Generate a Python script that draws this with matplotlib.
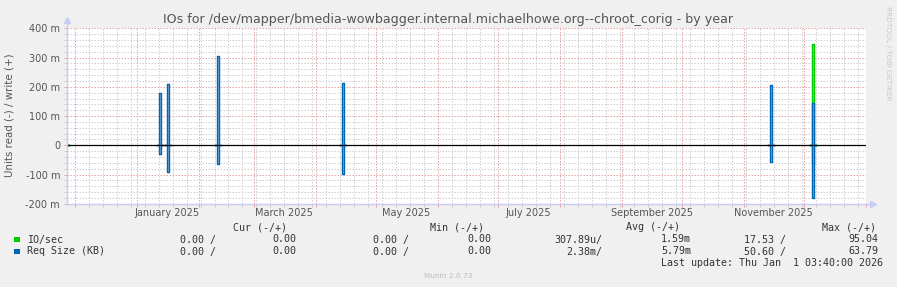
import matplotlib
matplotlib.use('Agg')
import matplotlib.pyplot as plt
import matplotlib.dates as mdates
from matplotlib.patches import Rectangle
import numpy as np
import pandas as pd
from datetime import datetime, timedelta

title = "IOs for /dev/mapper/bmedia-wowbagger.internal.michaelhowe.org--chroot_corig - by year"
ylabel = "Units read (-) / write (+)"

end_time = datetime(2026, 1, 1, 3, 40)
start_time = end_time - timedelta(days=400)

# daily averages, only the non-zero days listed
spike_days = ['2025-01-12', '2025-01-16', '2025-02-10', '2025-04-14', '2025-11-14', '2025-12-05']
io_write = [0, 0, 0, 0, 0, 0.346]
io_read = [0, 0, 0, 0, 0, 0.064]
req_write = [0.180, 0.210, 0.305, 0.213, 0.206, 0.144]
req_read = [0.030, 0.091, 0.064, 0.098, 0.058, 0.181]

yticks = [-0.2, -0.1, 0, 0.1, 0.2, 0.3, 0.4]
ytick_labels = ['-200 m', '-100 m', '0', '100 m', '200 m', '300 m', '400 m']

month_label_days = ['2025-01-16', '2025-03-16', '2025-05-16', '2025-07-16', '2025-09-16', '2025-11-16']
month_labels = ['January 2025', 'March 2025', 'May 2025', 'July 2025', 'September 2025', 'November 2025']

series_names = ['IO/sec', 'Req Size (KB)']
series_colors = ['#00CC00', '#0066B3']
series_light = ['#88E088', '#8DB8DE']
headers = ['Cur (-/+)', 'Min (-/+)', 'Avg (-/+)', 'Max (-/+)']
legend_values = [
    ['0.00 /', '0.00', '0.00 /', '0.00', '307.89u/', '1.59m', '17.53 /', '95.04'],
    ['0.00 /', '0.00', '0.00 /', '0.00', '2.38m/', '5.79m', '50.60 /', '63.79'],
]
last_update = "Last update: Thu Jan  1 03:40:00 2026"

days = pd.date_range('2024-11-27', '2026-01-01', freq='D')


def daily(vals):
    s = pd.Series(0.0, index=days)
    s[pd.to_datetime(spike_days)] = vals
    return s


W, H = 897, 287
fig = plt.figure(figsize=(W / 100, H / 100), dpi=100, facecolor='#F0F0F0')
ax = fig.add_axes([67 / W, 1 - 203.8 / H, (866 - 67) / W, (203.8 - 28.3) / H])
ax.set_facecolor('#FFFFFF')

for (w, r), c, cl in zip([(io_write, io_read), (req_write, req_read)], series_colors, series_light):
    for s in [daily(w), -daily(r)]:
        # only draw around non-zero days, the zero line covers the rest
        keep = (s != 0) | (s.shift(1) != 0) | (s.shift(-1) != 0)
        s = s.where(keep)
        ax.fill_between(days, s.fillna(0), step='post', color=cl, lw=0, zorder=3)
        ax.plot(days, s, drawstyle='steps-post', color=c, lw=1.0, zorder=3)

ax.axhline(0, color='black', lw=0.9, zorder=4)

ax.set_xlim(start_time, end_time)
ax.set_ylim(-0.2, 0.4)
ax.set_yticks(yticks)
ax.set_yticklabels(ytick_labels)
ax.set_yticks(np.arange(-0.2, 0.41, 0.02), minor=True)
ax.xaxis.set_major_locator(mdates.MonthLocator())
ax.xaxis.set_minor_locator(mdates.WeekdayLocator(byweekday=mdates.SU))
ax.set_xticklabels([])

dots = (0, (1.5, 1.5))
ax.grid(True, which='minor', color='#D0D0D0', linestyle=dots, lw=0.72, zorder=1)
ax.grid(True, which='major', color='#E6A6A6', linestyle=dots, lw=0.72, zorder=2)
ax.set_axisbelow(True)

ax.tick_params(which='both', length=2, width=0.7, labelsize=7, labelcolor='#555555', pad=3)
ax.tick_params(which='minor', color='#D0D0D0')
ax.tick_params(which='major', color='#E6A6A6')

for s in ['top', 'right']:
    ax.spines[s].set_visible(False)
for s in ['left', 'bottom']:
    ax.spines[s].set_color('#C8CCF4')
    ax.spines[s].set_linewidth(1)
    ax.spines[s].set_zorder(5)

# axis arrows
ax.plot([0], [1.05], marker='^', ms=5, color='#C8CCF4', transform=ax.transAxes, clip_on=False)
ax.plot([0, 0], [1, 1.05], color='#C8CCF4', lw=1, transform=ax.transAxes, clip_on=False)
ax.plot([1.009], [0], marker='>', ms=5, color='#C8CCF4', transform=ax.transAxes, clip_on=False)
ax.plot([1, 1.009], [0, 0], color='#C8CCF4', lw=1, transform=ax.transAxes, clip_on=False)

for d, t in zip(month_label_days, month_labels):
    ax.text(pd.Timestamp(d), -0.05, t, transform=ax.get_xaxis_transform(),
            ha='center', va='center', fontsize=7, color='#555555')

fig.text(448.5 / W, 1 - 19 / H, title, ha='center', va='center', fontsize=9.05, color='#555555')
fig.text(10 / W, 1 - 115 / H, ylabel, rotation=90, ha='center', va='center', fontsize=7.4, color='#555555')
fig.text(888 / W, 1 - 53 / H, 'RRDTOOL / TOBI OETIKER', rotation=270, ha='center', va='center',
         fontsize=5.3, color='#C8C8C8')
fig.text(448 / W, 1 - 276 / H, 'Munin 2.0.73', ha='center', va='center', fontsize=5.3, color='#BBBBBB')

mono = dict(family='DejaVu Sans Mono', fontsize=7.2, color='#333333', va='center')
header_right = [287, 484, 680, 876]
for h, xr in zip(headers, header_right):
    fig.text(xr / W, 1 - 227 / H, h, ha='right', **mono)

col_right = [216, 296, 409, 491, 602, 691, 786, 878]
row_y = [239.5, 251.5]
for name, c, vals, y in zip(series_names, series_colors, legend_values, row_y):
    fig.add_artist(Rectangle((14 / W, 1 - (y + 2.5) / H), 5.5 / W, 5.5 / H,
                             transform=fig.transFigure, color=c, lw=0))
    fig.text(27 / W, 1 - y / H, name, ha='left', **mono)
    for v, xr in zip(vals, col_right):
        fig.text(xr / W, 1 - y / H, v, ha='right', **mono)
fig.text(883 / W, 1 - 263.5 / H, last_update, ha='right', **mono)

fig.savefig('out.png', dpi=100, facecolor=fig.get_facecolor())
